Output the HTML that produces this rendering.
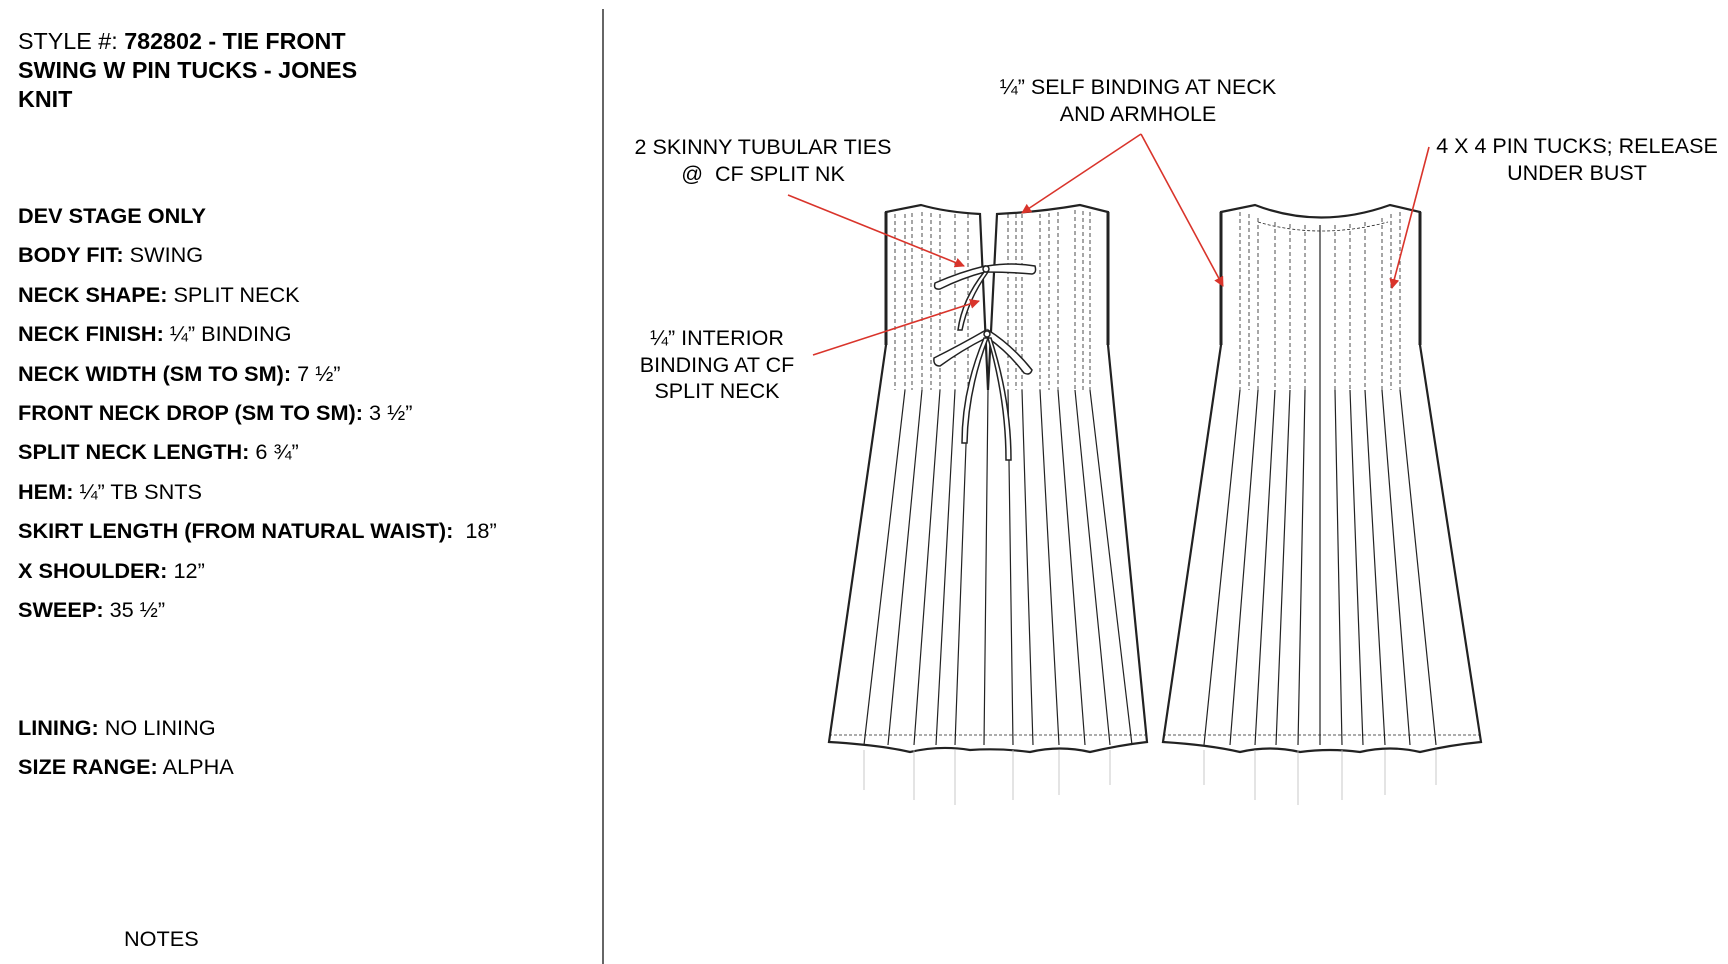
<!DOCTYPE html>
<html><head><meta charset="utf-8"><style>
body{margin:0;width:1728px;height:960px;background:#fff;position:relative;overflow:hidden;font-family:"Liberation Sans",Arial,sans-serif;color:#000}
.t{position:absolute;left:18px;font-size:21.7px;white-space:nowrap;line-height:1}
.h{position:absolute;left:18px;top:27px;font-size:23.3px;line-height:29px;width:370px}
b{font-weight:bold}
.lab{position:absolute;font-size:21.5px;text-align:center;line-height:26.5px;white-space:nowrap;transform:translateX(-50%)}
</style></head><body>
<div class="h">STYLE #: <b>782802 - TIE FRONT SWING W PIN TUCKS - JONES<br>KNIT</b></div>
<div class="t" style="top:205px"><b>DEV STAGE ONLY</b></div>
<div class="t" style="top:244px"><b>BODY FIT:</b> SWING</div>
<div class="t" style="top:284px"><b>NECK SHAPE:</b> SPLIT NECK</div>
<div class="t" style="top:323px"><b>NECK FINISH:</b> ¼” BINDING</div>
<div class="t" style="top:363px"><b>NECK WIDTH (SM TO SM):</b> 7 ½”</div>
<div class="t" style="top:402px"><b>FRONT NECK DROP (SM TO SM):</b> 3 ½”</div>
<div class="t" style="top:441px"><b>SPLIT NECK LENGTH:</b> 6 ¾”</div>
<div class="t" style="top:481px"><b>HEM:</b> ¼” TB SNTS</div>
<div class="t" style="top:520px"><b>SKIRT LENGTH (FROM NATURAL WAIST):</b>&nbsp; 18”</div>
<div class="t" style="top:560px"><b>X SHOULDER:</b> 12”</div>
<div class="t" style="top:599px"><b>SWEEP:</b> 35 ½”</div>
<div class="t" style="top:717px"><b>LINING:</b> NO LINING</div>
<div class="t" style="top:756px"><b>SIZE RANGE:</b> ALPHA</div>
<div class="t" style="top:928px;left:124px">NOTES</div>
<div style="position:absolute;left:602px;top:9px;width:2px;height:955px;background:#666"></div>

<div class="lab" style="left:763px;top:134px">2 SKINNY TUBULAR TIES<br>@&nbsp; CF SPLIT NK</div>
<div class="lab" style="left:1138px;top:74px">¼” SELF BINDING AT NECK<br>AND ARMHOLE</div>
<div class="lab" style="left:1577px;top:133px">4 X 4 PIN TUCKS; RELEASE<br>UNDER BUST</div>
<div class="lab" style="left:717px;top:325px">¼” INTERIOR<br>BINDING AT CF<br>SPLIT NECK</div>

<svg width="1728" height="960" style="position:absolute;left:0;top:0" xmlns="http://www.w3.org/2000/svg">
<defs><marker id="ar" markerWidth="10" markerHeight="10" refX="9" refY="5" orient="auto" markerUnits="userSpaceOnUse"><path d="M0,0 L10,5 L0,10 z" fill="#d9342b"/></marker></defs>
<g fill="none" stroke="#222" stroke-width="1.2">
<!-- front dress -->
<path d="M980,214 Q945,212 921,205 L886,212 L886,345 L829,742 Q880,745 910,752 Q940,745 970,750 Q1000,748 1030,752 Q1060,745 1090,752 Q1120,745 1147,742 L1108,345 L1108,212 L1080,205 Q1040,212 997,214 L988,390 Z" stroke-width="2.2"/>
<path d="M829,735 L1147,735" stroke-dasharray="3,2" stroke-width="0.8"/>
<path d="M886,345 L886,212 M1108,345 L1108,212" stroke-width="3"/>
<g stroke-width="0.8" stroke-dasharray="4,3">
<path d="M905,214V390M922,212V390M940,214V390M955,214V390M968,214V390M1008,214V390M1022,214V390M1040,214V390M1058,212V390M1075,210V390M1090,212V390"/>
<path d="M895,214V390M912,213V390M931,213V390M1016,214V390M1049,213V390M1083,211V390"/>
</g>
<path d="M905,390L864,745M922,390L888,745M940,390L914,745M955,390L936,745M968,390L955,745M988,390L984,745M1008,390L1013,745M1022,390L1033,745M1040,390L1059,745M1058,390L1085,745M1075,390L1110,745M1090,390L1132,745"/>
<g stroke="#bbb" stroke-width="0.8"><path d="M864,750V790M914,750V800M955,750V805M1013,750V800M1059,750V795M1110,750V785"/></g>
<!-- ties -->
<g stroke-width="1.5" fill="#fff">
<path d="M985,266 Q960,272 935,283 Q933,290 940,289 Q962,278 985,272 Z"/>
<path d="M987,266 Q1012,262 1035,266 Q1037,273 1032,274 Q1010,272 987,272 Z"/>
<path d="M984,272 Q962,300 958,330 L962,330 Q968,300 988,272 Z"/>
<path d="M986,330 Q960,345 934,358 Q933,366 940,366 Q962,350 986,338 Z"/>
<path d="M988,330 Q1012,345 1032,370 Q1030,376 1024,373 Q1008,352 988,338 Z"/>
<path d="M984,338 Q962,390 962,443 L967,443 Q968,390 988,338 Z"/>
<path d="M988,338 Q1006,400 1006,460 L1011,460 Q1011,400 991,338 Z"/>
<circle cx="986" cy="269" r="3"/><circle cx="987" cy="334" r="3"/>
</g>
<!-- back dress -->
<path d="M1221,212 L1255,205 Q1320,230 1390,205 L1420,212 L1420,345 L1481,742 Q1450,745 1420,752 Q1390,745 1360,752 Q1330,748 1300,752 Q1270,745 1240,752 Q1210,745 1163,742 L1221,345 Z" stroke-width="2.2"/>
<path d="M1163,735 L1481,735" stroke-dasharray="3,2" stroke-width="0.8"/>
<path d="M1221,345 L1221,212 M1420,345 L1420,212" stroke-width="3"/>
<path d="M1258,222 Q1320,240 1388,222" stroke-dasharray="3,2" stroke-width="0.8"/>
<g stroke-width="0.8" stroke-dasharray="4,3">
<path d="M1240,212V390M1258,218V390M1275,222V390M1290,224V390M1305,225V390M1335,225V390M1350,224V390M1365,222V390M1382,218V390M1400,212V390M1249,214V390M1391,214V390"/>
</g>
<path d="M1240,390L1204,745M1258,390L1230,745M1275,390L1255,745M1290,390L1276,745M1305,390L1298,745M1320,225L1320,745M1335,390L1342,745M1350,390L1363,745M1365,390L1385,745M1382,390L1410,745M1400,390L1436,745"/>
<g stroke="#bbb" stroke-width="0.8"><path d="M1204,750V785M1255,750V800M1298,750V805M1342,750V800M1385,750V795M1436,750V785"/></g>
</g>
<g stroke="#d9342b" stroke-width="1.6" fill="none">
<line x1="788" y1="195" x2="964" y2="266" marker-end="url(#ar)"/>
<line x1="813" y1="355" x2="979" y2="301" marker-end="url(#ar)"/>
<line x1="1141" y1="134" x2="1022" y2="213" marker-end="url(#ar)"/>
<line x1="1141" y1="134" x2="1223" y2="286" marker-end="url(#ar)"/>
<line x1="1429" y1="147" x2="1392" y2="288" marker-end="url(#ar)"/>
</g>
</svg>
</body></html>
